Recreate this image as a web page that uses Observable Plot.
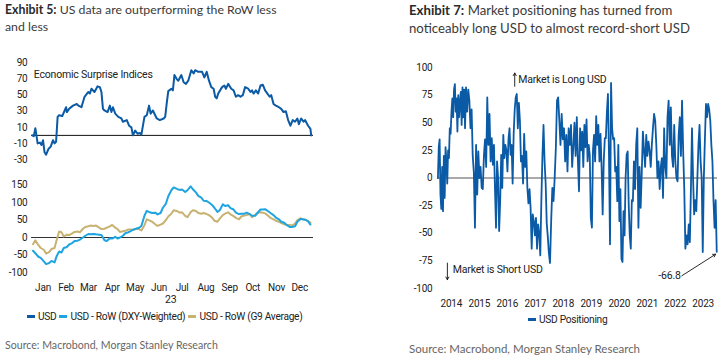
<!DOCTYPE html>
<html><head><meta charset="utf-8">
<script src="https://cdn.jsdelivr.net/npm/d3@7"></script>
<script src="https://cdn.jsdelivr.net/npm/@observablehq/plot@0.6"></script>
<style>
body{margin:0;background:#fff;}
#wrap{position:relative;width:723px;height:361px;overflow:hidden;}
.abs{position:absolute;}
.title{font-family:Lato,"Open Sans",sans-serif;font-size:12.3px;color:#3a3a3a;line-height:17px;white-space:nowrap;}
.title.r{font-size:13.2px;line-height:18px;}
.title b{font-weight:700;color:#2a2a2a;}
.src{font-family:Lato,"Open Sans",sans-serif;font-size:10.6px;color:#666;white-space:nowrap;}
.src.r{font-size:11.5px;}
.legend{font-family:Roboto,sans-serif;font-size:10.2px;letter-spacing:-0.3px;color:#222;white-space:nowrap;display:flex;align-items:center;}
.sw{display:inline-block;width:8px;height:3px;margin-right:3px;}
.item{display:flex;align-items:center;margin-right:3px;}
.note{font-family:Roboto,sans-serif;font-size:10.5px;color:#222;letter-spacing:-0.2px;}
</style></head>
<body><div id="wrap"></div>
<script>
// ---------- Exhibit 5 data ----------
const esiDates = ["01-02","01-04","01-06","01-09","01-12","01-14","01-16","01-18","01-20","01-23","01-26","01-29","01-31",
"02-02","02-04","02-06","02-10","02-15","02-16","02-19","02-24","03-01","03-03","03-07","03-11","03-16","03-18","03-20","03-24","03-28","03-31",
"04-02","04-04","04-06","04-10","04-13","04-15","04-17","04-20","04-24","04-28","04-30","05-05","05-08","05-11","05-13","05-16","05-19","05-22","05-24","05-28","05-31",
"06-03","06-05","06-08","06-13","06-17","06-22","06-24","06-26","06-28","07-02","07-04","07-06","07-09","07-11","07-15","07-18","07-21","07-24","07-28","07-31",
"08-02","08-06","08-11","08-14","08-17","08-20","08-23","08-26","08-28","08-30","09-01","09-06","09-09","09-11","09-14","09-18","09-21","09-24","09-27","09-30",
"10-03","10-06","10-10","10-13","10-15","10-17","10-20","10-23","10-26","10-29","11-01","11-04","11-07","11-09","11-12","11-15","11-19","11-22","11-25","11-28",
"12-01","12-04","12-07","12-10","12-13","12-15","12-18","12-21","12-23","12-27","12-30","12-31"];
const esiValues = [0,-1,9,-10,-9,-12,-6,-21,-24,-17,-14,-6,-10,
-8,23,25,24,35,29,33,37,39,37,35,48,54,52,58,54,61,60,
54,33,31,29,37,29,35,27,23,21,17,19,12,10,0,6,2,3,1,23,25,
37,27,31,21,19,21,23,40,55,58,56,75,70,68,75,66,64,68,81,77,
81,79,79,72,79,68,60,58,48,46,52,60,62,58,64,58,56,48,50,48,
50,60,58,54,56,52,56,52,62,63,56,52,48,50,39,37,35,33,29,30,
19,12,19,17,21,14,21,17,19,12,8,0];

const rowDates = ["01-03","01-06","01-10","01-13","01-17","01-20","01-24","01-27","01-31","02-03","02-06","02-09","02-12","02-16","02-19","02-23","02-26",
"03-02","03-05","03-09","03-12","03-16","03-19","03-23","03-26","03-30","04-02","04-06","04-09","04-13","04-16","04-20","04-23","04-26","04-30",
"05-03","05-07","05-10","05-14","05-17","05-21","05-24","05-28","05-31","06-04","06-07","06-11","06-14","06-18","06-21","06-25","06-28",
"07-02","07-05","07-10","07-13","07-16","07-20","07-23","07-27","07-30","08-03","08-06","08-10","08-13","08-17","08-20","08-24","08-27","08-31",
"09-03","09-07","09-10","09-14","09-17","09-21","09-24","09-28","10-01","10-05","10-08","10-12","10-15","10-19","10-22","10-26","10-29",
"11-01","11-05","11-08","11-12","11-15","11-19","11-22","11-26","11-29","12-03","12-06","12-10","12-13","12-17","12-20","12-24","12-27","12-30"];
const dxyValues = [-38,-45,-55,-58,-68,-76,-73,-67,-71,-52,-40,-43,-30,-27,-20,-16,-10,
-9,-6,0,5,10,9,10,9,8,7,-8,-10,-2,-3,2,-3,0,5,
12,15,18,23,25,28,33,62,76,72,70,71,66,70,85,97,118,
135,143,138,136,137,130,135,146,138,129,119,114,105,104,100,93,85,73,
78,95,90,92,84,80,71,67,68,68,71,67,62,62,70,80,80,
81,75,70,64,57,52,45,42,36,30,30,32,45,53,52,50,46,37];
const g9Values = [-19,-8,-22,-30,-35,-46,-42,-33,-30,-5,17,15,3,8,7,12,16,
17,15,25,30,32,34,33,34,28,24,25,28,32,36,28,24,16,18,
19,23,23,22,25,24,20,35,52,48,45,38,33,37,40,50,60,
68,78,75,71,72,62,58,72,78,76,70,68,70,67,64,57,48,45,
54,64,68,72,66,61,56,52,60,63,64,67,58,64,70,72,71,
69,62,56,52,48,45,41,38,36,36,34,40,50,55,52,51,47,42];

const esiTicks = [-30,-10,10,30,50,70,90];
const rowTicks = [-100,-50,0,50,100,150];
const monthTicks = ["01-16","02-15","03-16","04-16","05-16","06-16","07-16","08-16","09-16","10-16","11-16","12-16"];

// ---------- Exhibit 7 data (USD positioning, read per year) ----------
const posYears = [2014,2015,2016,2017,2018,2019,2020,2021,2022,2023];
const pos2014 = [0,28,35,-15,-28,10,-30,20,-18,28,15,-5,25,18,45,40,60,72,55,80,85,60,72,42,75,55,68,78,48,82,55,80,45];
const pos2015 = [82,60,80,70,45,62,20,5,-45,30,-15,24,0,10,-9,-10,20,35,10,73,30,58,15,36,12];
const pos2016 = [30,-10,-45,15,0,-48,-21,21,-9,39,18,30,25,6,35,45,21,30,-5,40,62,73,76,45,68,52,15];
const pos2017 = [20,-5,40,10,24,-9,-23,-10,-27,-64,-33,-39,-52,-36,-64,-42,-50,-70,-20,20,48,15,-5,-41,-53,-68];
const pos2018 = [-77,-39,-9,-21,0,27,70,73,52,30,58,35,45,15,39,6,45,30,48,10,28,50,20,55];
const pos2019 = [15,-12,45,25,42,10,48,28,53,15,30,21,-36,-45,25,39,15,56,30,48,15,40,10,-33,15,36];
const pos2020 = [36,60,76,20,-60,86,45,35,36,6,10,-21,30,-39,-10,-73,-76,-30,-52,0,21,24,-24,-52,-64,-20,-21];
const pos2021 = [15,-10,30,45,-45,10,-27,5,42,25,10,39,20,33,25,10,30,45,58,52,30,0,15,-10,10];
const pos2022 = [18,-18,45,10,0,55,70,30,64,20,10,48,15,0,-3,39,55,20,70,25,-10,-64,-52,-60,-42];
const pos2023 = [-58,-10,45,0,-33,-20,-30,0,30,48,15,0,-67,0,35,67,55,67,62,52,30,15,-21,-45,-20,-66.8];
const posTicks = [-100,-75,-50,-25,0,25,50,75,100];
const yearTicks = [2014,2015,2016,2017,2018,2019,2020,2021,2022,2023];

// annotations (data coordinates)
const longArrow = {date:"2016-10-05", y1:83, y2:95};
const longText = {date:"2016-11-20", y:89, text:"Market is Long USD"};
const shortArrow = {date:"2014-05-10", y1:-77, y2:-92};
const shortText = {date:"2014-07-20", y:-83, text:"Market is Short USD"};
const lastLabel = {date:"2022-09-10", y:-88.5, text:"-66.8"};
const lastArrow = {d1:"2022-09-25", y1:-88.5, d2:"2023-12-10", y2:-69};

// ---------- build ----------
const C_USD = "#0b5aa6", C_DXY = "#1fa4e2", C_G9 = "#c8b271";
const d23 = s => new Date("2023-" + s + "T00:00:00Z");
const D = s => new Date(s + "T00:00:00Z");
const esi = esiDates.map((d,i)=>({date:d23(d), value:esiValues[i]}));
const row = rowDates.flatMap((d,i)=>[
  {date:d23(d), value:dxyValues[i], s:"dxy"},
  {date:d23(d), value:g9Values[i], s:"g9"}]);
const posAll = [pos2014,pos2015,pos2016,pos2017,pos2018,pos2019,pos2020,pos2021,pos2022,pos2023]
  .flatMap((vals,k)=>{
    const a = Date.UTC(posYears[k],0,1), b = Date.UTC(posYears[k]+1,0,1);
    return vals.map((v,i)=>({date:new Date(a + (i+0.5)/vals.length*(b-a)), value:v}));
  });

const wrap = document.getElementById("wrap");
function place(node, left, top){ const d=document.createElement("div"); d.className="abs"; d.style.left=left+"px"; d.style.top=top+"px"; d.appendChild(node); wrap.appendChild(d); return d;}
function html(h, left, top, cls){ const d=document.createElement("div"); d.className="abs "+(cls||""); d.style.left=left+"px"; d.style.top=top+"px"; d.innerHTML=h; wrap.appendChild(d); return d;}

const baseStyle = {fontFamily:"Roboto, sans-serif", fontSize:"10px", letterSpacing:"-0.2px", color:"#222", background:"transparent", overflow:"visible"};
const fmt = d => String(d);
const xDom5 = [D("2023-01-01"), D("2024-01-03")];

// top-left
place(Plot.plot({
  width:320, height:115, marginLeft:31, marginRight:7, marginTop:12.5, marginBottom:6,
  style: baseStyle,
  x:{type:"utc", domain:xDom5, axis:null},
  y:{domain:[-30,90], ticks:esiTicks, tickSize:0, tickPadding:4, tickFormat:fmt, label:null},
  marks:[
    Plot.ruleY([0], {stroke:"#111", strokeWidth:1}),
    Plot.line(esi, {x:"date", y:"value", stroke:C_USD, strokeWidth:2}),
    Plot.text(["Economic Surprise Indices"], {x:()=>d23("01-04"), y:()=>75.5, text:d=>d, textAnchor:"start", fontSize:10.5, fill:"#222"})
  ]
}), 0, 50);

// bottom-left
place(Plot.plot({
  width:320, height:140, marginLeft:31, marginRight:7, marginTop:14.5, marginBottom:38,
  style: baseStyle,
  x:{type:"utc", domain:xDom5, ticks:monthTicks.map(d23), tickFormat:d3.utcFormat("%b"), tickSize:0, tickPadding:11, label:null, fontSize:10.5},
  y:{domain:[-100,150], ticks:rowTicks, tickSize:0, tickPadding:4, tickFormat:fmt, label:null},
  marks:[
    Plot.ruleY([0], {stroke:"#333", strokeWidth:1}),
    Plot.line(row.filter(d=>d.s==="g9"), {x:"date", y:"value", stroke:C_G9, strokeWidth:2}),
    Plot.line(row.filter(d=>d.s==="dxy"), {x:"date", y:"value", stroke:C_DXY, strokeWidth:2})
  ]
}), 0, 170);
html("23", 165, 293, "note");

html('<span class="item"><span class="sw" style="background:'+C_USD+'"></span>USD</span>'+
     '<span class="item"><span class="sw" style="background:'+C_DXY+'"></span>USD - RoW (DXY-Weighted)</span>'+
     '<span class="item"><span class="sw" style="background:'+C_G9+'"></span>USD - RoW (G9 Average)</span>', 27, 311, "legend");

html('<b>Exhibit 5:</b> US data are outperforming the RoW less<br>and less', 5, 1, "title");
html('Source: Macrobond, Morgan Stanley Research', 5, 339, "src");

// right
place(Plot.plot({
  width:363, height:265, marginLeft:77, marginRight:6, marginTop:12, marginBottom:32,
  style: baseStyle,
  x:{type:"utc", domain:[D("2014-01-01"), D("2024-01-04")], ticks:yearTicks.map(y=>new Date(Date.UTC(y,6,1))), tickFormat:d3.utcFormat("%Y"), tickSize:0, tickPadding:11, label:null},
  y:{domain:[-100,100], ticks:posTicks, tickSize:0, tickPadding:5, tickFormat:fmt, label:null},
  marks:[
    Plot.ruleY([0], {stroke:"#555", strokeWidth:1}),
    Plot.line(posAll, {x:"date", y:"value", stroke:C_USD, strokeWidth:1.8}),
    Plot.arrow([longArrow], {x:d=>D(d.date), y1:"y1", y2:"y2", stroke:"#111", strokeWidth:0.9, headLength:5}),
    Plot.text([longText], {x:d=>D(d.date), y:"y", text:"text", textAnchor:"start", fontSize:10.5, fill:"#222"}),
    Plot.arrow([shortArrow], {x:d=>D(d.date), y1:"y1", y2:"y2", stroke:"#111", strokeWidth:0.9, headLength:5}),
    Plot.text([shortText], {x:d=>D(d.date), y:"y", text:"text", textAnchor:"start", fontSize:10.5, fill:"#222"}),
    Plot.text([lastLabel], {x:d=>D(d.date), y:"y", text:"text", textAnchor:"end", fontSize:10.5, fill:"#222"}),
    Plot.arrow([lastArrow], {x1:d=>D(d.d1), y1:"y1", x2:d=>D(d.d2), y2:"y2", stroke:"#111", strokeWidth:0.9, headLength:5})
  ]
}), 360, 55);

html('<span class="item"><span class="sw" style="background:'+C_USD+'"></span>USD Positioning</span>', 528, 314, "legend");
html('<b>Exhibit 7:</b> Market positioning has turned from<br>noticeably long USD to almost record-short USD', 409, 1, "title r");
html('Source: Macrobond, Morgan Stanley Research', 409, 342, "src r");
</script></body></html>
